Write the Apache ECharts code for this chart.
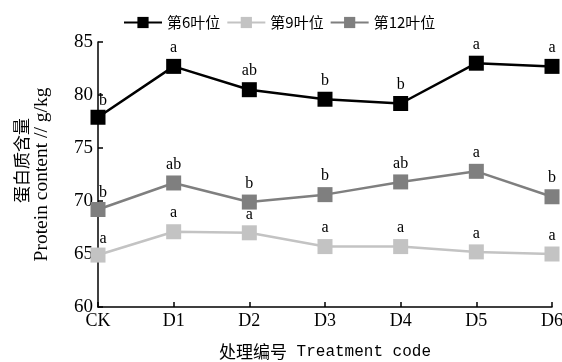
<!DOCTYPE html>
<html><head><meta charset="utf-8">
<script src="https://cdn.jsdelivr.net/npm/echarts@6/dist/echarts.min.js"></script>
<style>html,body{margin:0;padding:0;background:#fff}#c{width:562px;height:362px}</style>
</head><body><div id="c"></div>
<script>
var categories = ['CK','D1','D2','D3','D4','D5','D6'];
var leaf6 = [77.9, 82.7, 80.5, 79.6, 79.2, 83.0, 82.7];
var leaf9 = [64.9, 67.1, 67.0, 65.7, 65.7, 65.2, 65.0];
var leaf12 = [69.2, 71.7, 69.9, 70.6, 71.8, 72.8, 70.4];
var sig6 = ['b','a','ab','b','b','a','a'];
var sig9 = ['a','a','a','a','a','a','a'];
var sig12 = ['b','ab','b','b','ab','a','b'];
var seriesNames = ['第6叶位','第9叶位','第12叶位'];
var yTicks = {min:60, max:85, interval:5};

var serif = '"Liberation Serif", "Noto Sans CJK SC", serif';
var mono = '"Liberation Mono", "Noto Sans CJK SC", monospace';
var cjk = '"Noto Sans CJK SC", sans-serif';

function mk(name, vals, sig, color) {
  return {
    name: name, type: 'line', data: vals.map(function(v,i){
      var d = {value: v, label: {formatter: sig[i]}};
      if (i === 0) d.label.offset = [5, 2];
      return d;
    }),
    symbol: 'rect', symbolSize: 15,
    lineStyle: {color: color, width: 2.5},
    itemStyle: {color: color},
    label: {show: true, position: 'top', distance: 3, color: '#000',
      fontFamily: serif, fontSize: 16},
    z: 3
  };
}

var chart = echarts.init(document.getElementById('c'));
chart.setOption({
  animation: false,
  backgroundColor: '#fff',
  legend: {
    top: 10, left: 118,
    itemWidth: 38, itemHeight: 14, itemGap: 6,
    textStyle: {fontFamily: cjk, fontSize: 15, color: '#000'},
    data: seriesNames
  },
  grid: {left: 98, right: 10, top: 42, bottom: 55, outerBoundsMode: 'none', containLabel: false},
  xAxis: {
    type: 'category', data: categories, boundaryGap: false,
    name: '{c|处理编号}{e| Treatment code}', nameLocation: 'middle', nameGap: 36,
    nameTextStyle: {color: '#000', rich: {
      c: {fontFamily: cjk, fontSize: 17, color: '#000'},
      e: {fontFamily: mono, fontSize: 16, color: '#000'}
    }},
    axisLine: {lineStyle: {color: '#000', width: 1.5}},
    axisTick: {inside: true, length: 5, lineStyle: {color: '#000', width: 1.5}},
    axisLabel: {fontFamily: serif, fontSize: 18, color: '#000', margin: 5}
  },
  yAxis: {
    type: 'value', min: yTicks.min, max: yTicks.max, interval: yTicks.interval,
    name: '{c|蛋白质含量}\n{e|Protein content // g/kg}', nameLocation: 'middle', nameGap: 46,
    nameRotate: 90,
    nameTextStyle: {color: '#000', rich: {
      c: {fontFamily: cjk, fontSize: 17, color: '#000', lineHeight: 20, padding: [0, 0, 0, 28]},
      e: {fontFamily: serif, fontSize: 19.5, color: '#000', lineHeight: 20}
    }},
    splitLine: {show: false},
    axisLine: {show: true, lineStyle: {color: '#000', width: 1.5}},
    axisTick: {show: true, inside: true, length: 5, lineStyle: {color: '#000', width: 1.5}},
    axisLabel: {fontFamily: serif, fontSize: 19, color: '#000', margin: 5}
  },
  series: [
    mk(seriesNames[0], leaf6, sig6, '#000000'),
    mk(seriesNames[1], leaf9, sig9, '#c3c3c3'),
    mk(seriesNames[2], leaf12, sig12, '#7f7f7f')
  ]
});
</script></body></html>
